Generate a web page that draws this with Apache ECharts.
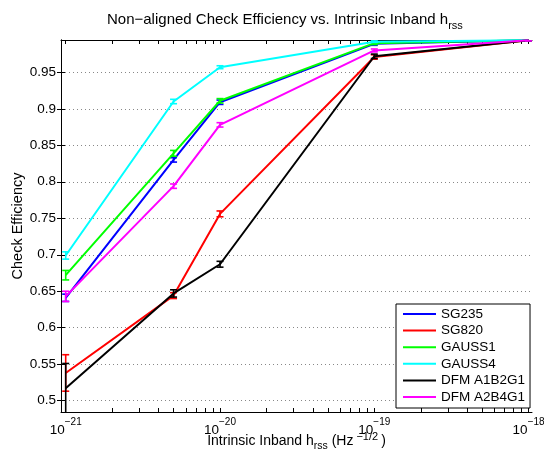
<!DOCTYPE html>
<html>
<head>
<meta charset="utf-8">
<script src="https://cdn.jsdelivr.net/npm/echarts@6/dist/echarts.min.js"></script>
<style>html,body{margin:0;padding:0;background:#fff}#c{width:544px;height:457px}</style>
</head>
<body>
<div id="c"></div>
<script>
const xValues = [1e-21, 5e-21, 1e-20, 1e-19, 1e-18];
const seriesNames = ['SG235', 'SG820', 'GAUSS1', 'GAUSS4', 'DFM A1B2G1', 'DFM A2B4G1'];
const sg235 = [0.641, 0.830, 0.909, 0.989, 0.994];
const sg235Err = [0.005, 0.003, 0.003, 0.002, 0.001];
const sg820 = [0.538, 0.644, 0.756, 0.971, 0.994];
const sg820Err = [0.025, 0.004, 0.004, 0.003, 0.001];
const gauss1 = [0.672, 0.839, 0.911, 0.990, 0.994];
const gauss1Err = [0.0065, 0.004, 0.003, 0.002, 0.001];
const gauss4 = [0.699, 0.910, 0.957, 0.992, 0.994];
const gauss4Err = [0.005, 0.003, 0.002, 0.001, 0.001];
const dfmA1B2G1 = [0.517, 0.647, 0.687, 0.972, 0.994];
const dfmA1B2G1Err = [0.034, 0.005, 0.004, 0.003, 0.001];
const dfmA2B4G1 = [0.643, 0.794, 0.878, 0.980, 0.994];
const dfmA2B4G1Err = [0.007, 0.003, 0.003, 0.002, 0.001];
const yTicks = [0.5, 0.55, 0.6, 0.65, 0.7, 0.75, 0.8, 0.85, 0.9, 0.95];
const xTickExponents = [-21, -20, -19, -18];

const values = [sg235, sg820, gauss1, gauss4, dfmA1B2G1, dfmA2B4G1];
const errors = [sg235Err, sg820Err, gauss1Err, gauss4Err, dfmA1B2G1Err, dfmA2B4G1Err];
const colors = ['#0000ff', '#ff0000', '#00ff00', '#00ffff', '#000000', '#ff00ff'];

const FONT = 'Liberation Sans, Arial, Helvetica, sans-serif';
const X_MIN = 0.9322e-21, X_MAX = 1.052e-18;
const Y_MIN = 0.4845, Y_MAX = 0.9943;

const xMajor = xTickExponents.map(e => Math.pow(10, e));
const xMinor = [];
for (let e = -21; e < -18; e++) {
  for (let k = 1; k <= 9; k++) xMinor.push(Number((k * Math.pow(10, e)).toPrecision(3)));
}
xMinor.push(1e-18);

function supFormatter(v) {
  const e = Math.round(Math.log10(v));
  return '{b|10}{s|\u2212' + Math.abs(e) + '}';
}
const richTick = {
  b: { fontFamily: FONT, fontSize: 13.5, color: '#000', padding: [8, 0, 0, 0] },
  s: { fontFamily: FONT, fontSize: 10, color: '#000', padding: [0, 0, 8, 0] }
};

function errRender(color) {
  return function (params, api) {
    const x = api.value(0), lo = api.value(1), hi = api.value(2);
    const p1 = api.coord([x, lo]);
    const p2 = api.coord([x, hi]);
    const w = 3.5;
    const st = { stroke: color, lineWidth: 1.6 };
    return {
      type: 'group',
      children: [
        { type: 'line', shape: { x1: p1[0], y1: p1[1], x2: p2[0], y2: p2[1] }, style: st },
        { type: 'line', shape: { x1: p1[0] - w, y1: p1[1], x2: p1[0] + w, y2: p1[1] }, style: st },
        { type: 'line', shape: { x1: p2[0] - w, y1: p2[1], x2: p2[0] + w, y2: p2[1] }, style: st }
      ]
    };
  };
}

const series = [];
seriesNames.forEach((name, i) => {
  series.push({
    name: name,
    type: 'line',
    xAxisIndex: 0, yAxisIndex: 0,
    symbol: 'none',
    color: colors[i],
    lineStyle: { color: colors[i], width: 2 },
    data: xValues.map((x, j) => [x, values[i][j]]),
    z: 3 + i,
    animation: false
  });
  series.push({
    name: name + ' err',
    type: 'custom',
    xAxisIndex: 0, yAxisIndex: 0,
    clip: true,
    renderItem: errRender(colors[i]),
    encode: { x: 0, y: [1, 2] },
    data: xValues.map((x, j) => [x, values[i][j] - errors[i][j], values[i][j] + errors[i][j]]),
    z: 3 + i,
    animation: false
  });
});

const chart = echarts.init(document.getElementById('c'), null, { renderer: 'canvas' });
chart.setOption({
  animation: false,
  backgroundColor: '#fff',
  title: {
    text: '{a|Non\u2212aligned Check Efficiency vs. Intrinsic Inband h}{sub|rss}',
    left: 102, top: 4,
    textStyle: {
      fontWeight: 'normal',
      rich: {
        a: { fontFamily: FONT, fontSize: 15, color: '#000', fontWeight: 'normal' },
        sub: { fontFamily: FONT, fontSize: 11, color: '#000', fontWeight: 'normal', padding: [11, 0, 0, 0] }
      }
    }
  },
  grid: { left: 61, right: 12, top: 40, bottom: 45, containLabel: false, outerBoundsMode: 'none' },
  legend: {
    data: seriesNames,
    orient: 'vertical',
    left: 396, top: 304,
    backgroundColor: '#fff',
    borderColor: '#000',
    borderWidth: 1,
    padding: [3, 5, 4, 6],
    itemWidth: 33, itemHeight: 14, itemGap: 2.6,
    itemStyle: { color: 'rgba(0,0,0,0)', borderColor: 'rgba(0,0,0,0)', borderWidth: 0, opacity: 0 },
    textStyle: { fontFamily: FONT, fontSize: 13.5, color: '#000', lineHeight: 14 }
  },
  xAxis: [
    {
      type: 'log', logBase: 10, min: X_MIN, max: X_MAX, position: 'bottom',
      name: '{a|Intrinsic Inband h}{sub|rss}{a| (Hz}{sup|\u22121/2}{a|)}',
      nameLocation: 'middle', nameGap: 19, nameMoveOverlap: false,
      nameTextStyle: {
        rich: {
          a: { fontFamily: FONT, fontSize: 14, color: '#000' },
          sub: { fontFamily: FONT, fontSize: 10.5, color: '#000', padding: [10, 0, 0, 0] },
          sup: { fontFamily: FONT, fontSize: 11, color: '#000', padding: [0, 3, 9, 3] }
        }
      },
      axisLine: { show: true, lineStyle: { color: '#000', width: 1 } },
      axisTick: { show: true, inside: true, length: 4, customValues: xMinor, lineStyle: { color: '#000' } },
      axisLabel: { show: true, customValues: xMajor, formatter: supFormatter, margin: 3, rich: richTick },
      splitLine: { show: false },
      minorTick: { show: false }
    },
    {
      type: 'log', logBase: 10, min: X_MIN, max: X_MAX, position: 'top',
      axisLine: { show: true, lineStyle: { color: '#000', width: 1 } },
      axisTick: { show: true, inside: true, length: 4, customValues: xMinor, lineStyle: { color: '#000' } },
      axisLabel: { show: false },
      splitLine: { show: false }
    }
  ],
  yAxis: [
    {
      type: 'value', min: Y_MIN, max: Y_MAX, position: 'left',
      name: 'Check Efficiency', nameLocation: 'middle', nameGap: 36, nameMoveOverlap: false,
      nameTextStyle: { fontFamily: FONT, fontSize: 14.5, color: '#000' },
      axisLine: { show: true, lineStyle: { color: '#000', width: 1 } },
      axisTick: { show: true, inside: true, length: 4, customValues: yTicks, lineStyle: { color: '#000' } },
      axisLabel: {
        show: true, customValues: yTicks, margin: 5,
        fontFamily: FONT, fontSize: 13.5, color: '#000',
        formatter: v => String(Number(v.toFixed(2)))
      },
      splitLine: { show: true, lineStyle: { color: '#888', width: 1, type: [1, 3] } }
    },
    {
      type: 'value', min: Y_MIN, max: Y_MAX, position: 'right',
      axisLine: { show: true, lineStyle: { color: '#000', width: 1 } },
      axisTick: { show: true, inside: true, length: 4, customValues: yTicks, lineStyle: { color: '#000' } },
      axisLabel: { show: false },
      splitLine: { show: false }
    }
  ],
  series: series
});
</script>
</body>
</html>
